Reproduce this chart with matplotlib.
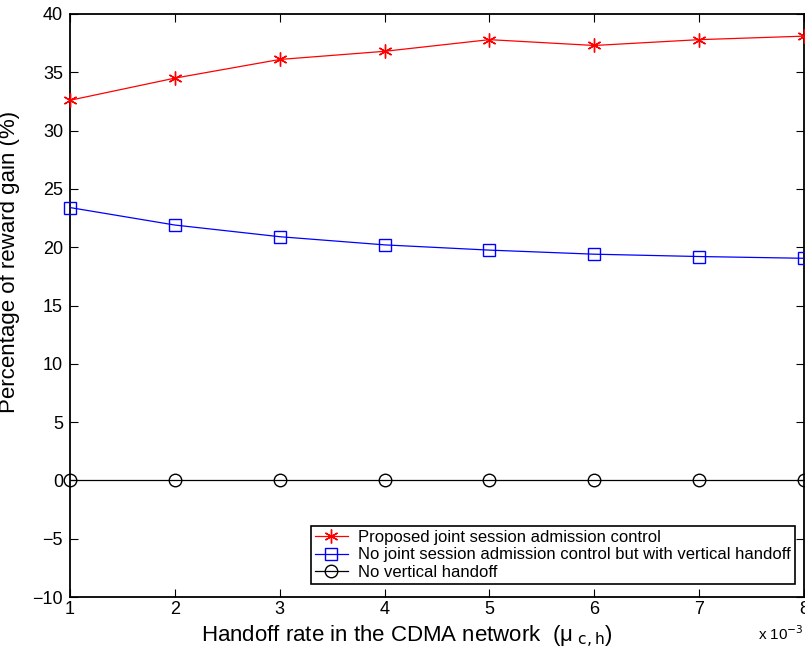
import matplotlib
matplotlib.use("Agg")
import matplotlib.pyplot as plt

x = [1, 2, 3, 4, 5, 6, 7, 8]
proposed = [32.6, 34.5, 36.1, 36.8, 37.8, 37.3, 37.8, 38.1]
no_joint = [23.4, 21.9, 20.9, 20.2, 19.75, 19.4, 19.2, 19.05]
no_vert = [0, 0, 0, 0, 0, 0, 0, 0]
labels = ["Proposed joint session admission control",
          "No joint session admission control but with vertical handoff",
          "No vertical handoff"]
yticks = [-10, -5, 0, 5, 10, 15, 20, 25, 30, 35, 40]

plt.rcParams['font.family'] = ['Liberation Sans', 'DejaVu Sans']
fig = plt.figure(figsize=(8.05, 6.54), dpi=100)
ax = fig.add_axes([70/805, (654-597)/654, 734/805, 583/654])

ax.plot(x, proposed, color='red', marker=(6, 2, 0), markersize=10, markerfacecolor='red',
        markeredgecolor='red', markeredgewidth=1.0, linewidth=0.9, label=labels[0],
        clip_on=False, zorder=3)
ax.plot(x, no_joint, color='blue', marker='s', markersize=8, markerfacecolor='none',
        markeredgecolor='blue', linewidth=0.9, label=labels[1], clip_on=False, zorder=3)
ax.plot(x, no_vert, color='black', marker='o', markersize=9, markerfacecolor='none',
        markeredgecolor='black', linewidth=0.9, label=labels[2], clip_on=False, zorder=3)

ax.set_xlim(1, 8)
ax.set_ylim(-10, 40)
ax.set_xticks(x)
ax.set_yticks(yticks)
ax.set_yticklabels([str(v).replace('-', '\u2212') for v in yticks])
ax.tick_params(direction='in', top=True, right=True, labelsize=13, length=6, width=0.8, pad=5)
ax.tick_params(axis='x', pad=3)
for s in ax.spines.values():
    s.set_linewidth(1.3)

ax.set_ylabel("Percentage of reward gain (%)", fontsize=16)
ax.yaxis.set_label_coords(-0.068, 0.575)
fig.text(0.505, 1 - 637/654, "Handoff rate in the CDMA network  (\u03bc$_{\\ \\mathrm{c,h}}$)",
         ha='center', va='center', fontsize=16)
fig.text(0.999, 1 - 634/654, r"x 10$^{-3}$", ha='right', va='center', fontsize=11)

leg = ax.legend(loc='lower right', bbox_to_anchor=((795-70)/734, 13/583), fontsize=12,
                fancybox=False, framealpha=1, edgecolor='black', borderpad=0.25,
                labelspacing=0.15, handlelength=2.0, handletextpad=0.6, borderaxespad=0)
leg.get_frame().set_linewidth(1.2)

fig.savefig("out.png", dpi=100)
